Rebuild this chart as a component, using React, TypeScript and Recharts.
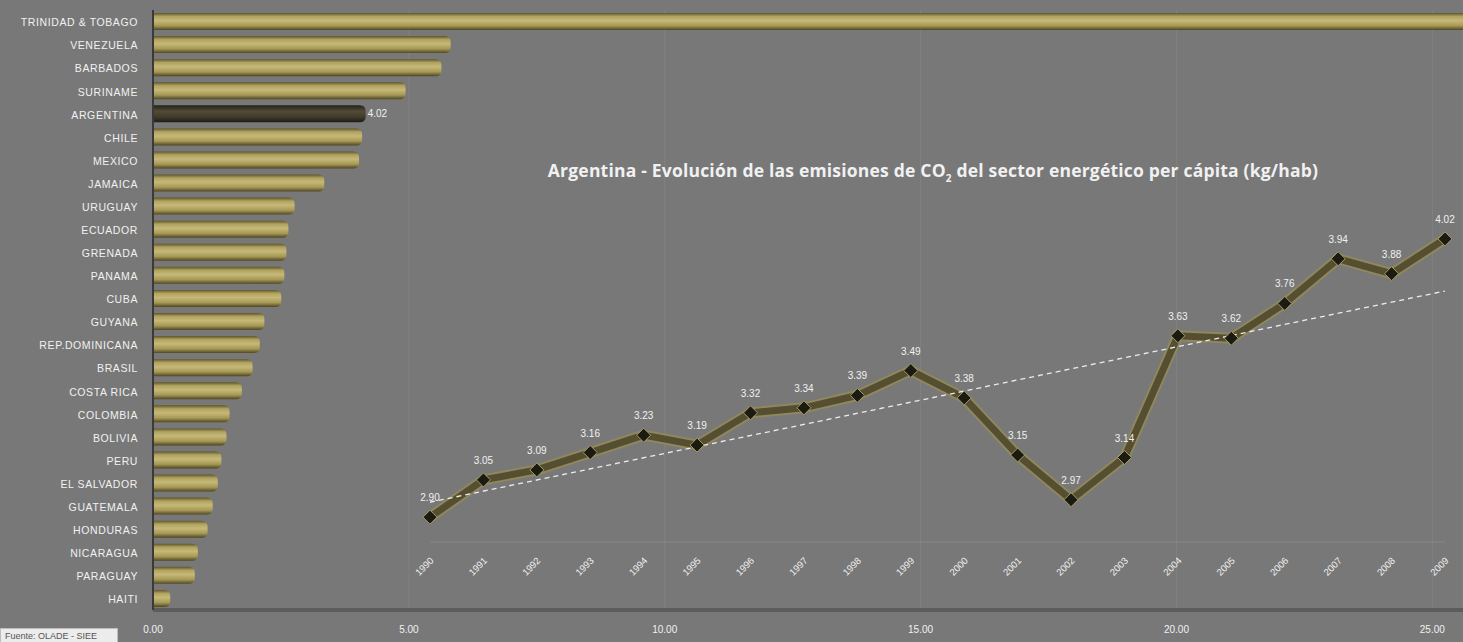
import { Bar, BarChart, CartesianGrid, Cell, LabelList, Line, LineChart, XAxis, YAxis } from 'recharts';

// Emisiones per capita del sector energetico - America Latina y Caribe
const countries = [
  'TRINIDAD & TOBAGO', 'VENEZUELA', 'BARBADOS', 'SURINAME', 'ARGENTINA', 'CHILE', 'MEXICO',
  'JAMAICA', 'URUGUAY', 'ECUADOR', 'GRENADA', 'PANAMA', 'CUBA', 'GUYANA', 'REP.DOMINICANA',
  'BRASIL', 'COSTA RICA', 'COLOMBIA', 'BOLIVIA', 'PERU', 'EL SALVADOR', 'GUATEMALA',
  'HONDURAS', 'NICARAGUA', 'PARAGUAY', 'HAITI',
];
const perCapita = [
  26.5, 5.68, 5.5, 4.8, 4.02, 3.95, 3.89, 3.21, 2.63, 2.51, 2.47, 2.43, 2.37, 2.04, 1.95,
  1.81, 1.6, 1.36, 1.3, 1.2, 1.13, 1.03, 0.93, 0.74, 0.68, 0.2,
];
const highlighted = 'ARGENTINA';
const xTicks = [0, 5, 10, 15, 20, 25];

// Serie de Argentina 1990-2009
const years = [
  '1990', '1991', '1992', '1993', '1994', '1995', '1996', '1997', '1998', '1999',
  '2000', '2001', '2002', '2003', '2004', '2005', '2006', '2007', '2008', '2009',
];
const argentina = [
  2.90, 3.05, 3.09, 3.16, 3.23, 3.19, 3.32, 3.34, 3.39, 3.49,
  3.38, 3.15, 2.97, 3.14, 3.63, 3.62, 3.76, 3.94, 3.88, 4.02,
];
// linea de tendencia (extremos)
const trendEnds = [2.96, 3.81];

const barData = countries.map((name, i) => ({
  name,
  value: perCapita[i],
  label: name === highlighted ? perCapita[i].toFixed(2) : '',
}));

const lineData = years.map((year, i) => ({
  year,
  value: argentina[i],
  trend: i === 0 ? trendEnds[0] : i === years.length - 1 ? trendEnds[1] : null,
}));

const BG = '#787878';
const TEXT = '#f1f1f1';
const CAP = 7; // el extremo redondeado de la barra 3D sobresale del valor

const CappedBar = (props: any) => {
  const { x, y, width, height, fill } = props;
  if (width == null || width <= 0) return null;
  const w = width + CAP;
  const r = Math.min(6, height / 2);
  return (
    <path
      d={`M${x},${y} H${x + w - r} Q${x + w},${y} ${x + w},${y + r} V${y + height - r} Q${x + w},${y + height} ${x + w - r},${y + height} H${x} Z`}
      fill={fill}
    />
  );
};

const CountryTick = (props: any) => {
  const { x, y, payload } = props;
  return (
    <text
      x={x}
      y={y + 2}
      textAnchor="end"
      dominantBaseline="middle"
      fill={TEXT}
      fontSize={10.5}
      letterSpacing={0.6}
    >
      {payload.value}
    </text>
  );
};

const Diamond = (props: any) => {
  const { cx, cy } = props;
  if (cx == null || cy == null) return null;
  const r = 7;
  return (
    <path
      d={`M${cx},${cy - r} L${cx + r},${cy} L${cx},${cy + r} L${cx - r},${cy} Z`}
      fill="#1b1b12"
      stroke="#a59c6c"
      strokeWidth={1}
    />
  );
};

const YearTick = (props: any) => {
  const { x, y, payload } = props;
  const cx = x - 5;
  const cy = y + 17;
  return (
    <text
      x={cx}
      y={cy}
      transform={`rotate(-45 ${cx} ${cy})`}
      textAnchor="middle"
      dominantBaseline="middle"
      fill={TEXT}
      fontSize={9.5}
    >
      {payload.value}
    </text>
  );
};

export default function App() {
  return (
    <div
      style={{
        position: 'fixed',
        left: 0,
        top: 0,
        width: 1463,
        height: 642,
        background: BG,
        overflow: 'hidden',
        fontFamily: '"Liberation Sans", Arial, sans-serif',
      }}
    >
      {/* Ranking de paises */}
      <div style={{ position: 'absolute', left: 0, top: 0 }}>
        <BarChart
          width={1463}
          height={642}
          data={barData}
          layout="vertical"
          margin={{ top: 10, right: 0, bottom: 0, left: 0 }}
          barCategoryGap={3}
        >
          <defs>
            <linearGradient id="gold" x1="0" y1="0" x2="0" y2="1">
              <stop offset="0%" stopColor="#5f5628" />
              <stop offset="20%" stopColor="#b0a260" />
              <stop offset="45%" stopColor="#c6b876" />
              <stop offset="75%" stopColor="#a69856" />
              <stop offset="100%" stopColor="#4f4721" />
            </linearGradient>
            <linearGradient id="dark" x1="0" y1="0" x2="0" y2="1">
              <stop offset="0%" stopColor="#24211a" />
              <stop offset="35%" stopColor="#524b36" />
              <stop offset="70%" stopColor="#3f3a29" />
              <stop offset="100%" stopColor="#1e1c14" />
            </linearGradient>
          </defs>
          <CartesianGrid horizontal={false} stroke="rgba(255,255,255,0.07)" />
          <XAxis
            type="number"
            domain={[0, 25.6]}
            ticks={xTicks}
            allowDataOverflow
            height={32}
            tickLine={false}
            tickSize={6}
            tickMargin={10}
            axisLine={{ stroke: '#5c5c5c', strokeWidth: 4 }}
            tick={{ fill: TEXT, fontSize: 10 }}
            tickFormatter={(v: number) => v.toFixed(2)}
          />
          <YAxis
            type="category"
            dataKey="name"
            width={153}
            tickLine={false}
            tickSize={6}
            tickMargin={9}
            axisLine={{ stroke: '#3a3a3a', strokeWidth: 2 }}
            tick={<CountryTick />}
            interval={0}
          />
          <Bar dataKey="value" barSize={17} shape={<CappedBar />} isAnimationActive={false}>
            {barData.map((d) => (
              <Cell key={d.name} fill={d.name === highlighted ? 'url(#dark)' : 'url(#gold)'} />
            ))}
            <LabelList dataKey="label" position="right" offset={CAP + 2} fill={TEXT} fontSize={10} />
          </Bar>
        </BarChart>
      </div>

      {/* Titulo del grafico insertado */}
      <div
        style={{
          position: 'absolute',
          left: 483,
          top: 158,
          width: 900,
          textAlign: 'center',
          color: TEXT,
          fontFamily: '"Open Sans", sans-serif',
          fontWeight: 700,
          fontSize: 17.5,
          letterSpacing: 0.2,
          whiteSpace: 'nowrap',
        }}
      >
        Argentina - Evolución de las emisiones de CO<sub style={{ fontSize: 10 }}>2</sub> del sector energético per cápita (kg/hab)
      </div>

      {/* Evolucion de Argentina */}
      <div style={{ position: 'absolute', left: 0, top: 0 }}>
        <LineChart
          width={1463}
          height={642}
          data={lineData}
          margin={{ top: 219, right: 18, bottom: 0, left: 430 }}
        >
          <XAxis
            dataKey="year"
            height={100}
            tickLine={false}
            axisLine={{ stroke: 'rgba(255,255,255,0.12)' }}
            tick={<YearTick />}
            interval={0}
          />
          <YAxis hide domain={[2.8, 4.1]} />
          <Line
            dataKey="value"
            stroke="#8f875d"
            strokeWidth={11}
            dot={false}
            isAnimationActive={false}
          />
          <Line
            dataKey="value"
            stroke="#554e30"
            strokeWidth={7}
            dot={<Diamond />}
            isAnimationActive={false}
          >
            <LabelList dataKey="value" position="top" offset={16} fill={TEXT} fontSize={10} formatter={(v: number) => v.toFixed(2)} />
          </Line>
          <Line
            dataKey="trend"
            stroke="#ececec"
            strokeWidth={1.3}
            strokeDasharray="5 4"
            dot={false}
            connectNulls
            isAnimationActive={false}
          />
        </LineChart>
      </div>

      {/* Fuente */}
      <div
        style={{
          position: 'absolute',
          left: 0,
          top: 628,
          width: 118,
          height: 20,
          background: '#ececec',
          border: '1px solid #bdbdbd',
          color: '#555',
          fontSize: 9,
          paddingLeft: 4,
          boxSizing: 'border-box',
          lineHeight: '14px',
        }}
      >
        Fuente: OLADE - SIEE
      </div>
    </div>
  );
}
